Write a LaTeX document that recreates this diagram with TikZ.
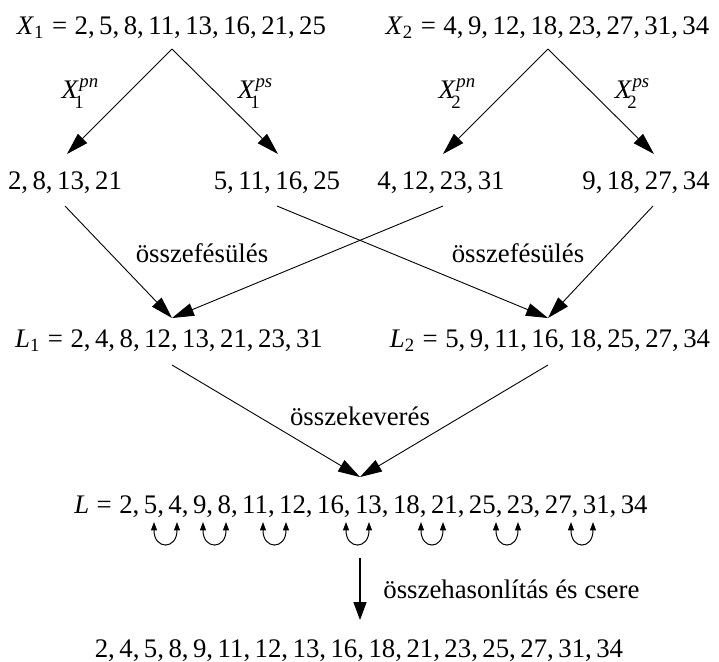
\documentclass[tikz,border=0pt]{standalone}
\usepackage{fontspec}
\setmainfont{Liberation Serif}
\usetikzlibrary{arrows.meta}

% italic variable, equal sign with math-like spacing
\newcommand\vx[1]{\textit{#1}}
\newcommand\eqsign{\hspace{0.28em}=\hspace{0.28em}}
% variable with stacked subscript and superscript
\newcommand\idxfont{\fontsize{9.4}{10}\selectfont}
\newcommand\partlbl[3]{\textit{#1}\rlap{\kern-0.17em\raisebox{-0.4em}{\idxfont #2}}\kern0.02em\raisebox{0.38em}{\idxfont\itshape #3}}

\begin{document}
\begin{tikzpicture}[x=0.5pt,y=-0.5pt,
  every node/.style={inner sep=0pt,font=\fontsize{13.4}{16}\selectfont},
  seq/.style={anchor=base},
  lbl/.style={anchor=base},
  link/.style={line width=0.45pt,-{Triangle[length=11pt,width=6.5pt]}},
  stepdown/.style={line width=0.75pt,-{Triangle[length=9pt,width=6.5pt]}},
  swap/.style={line width=0.5pt,{Triangle[length=4.2pt,width=3pt]}-{Triangle[length=4.2pt,width=3pt]}}]
\useasboundingbox (0,0) rectangle (719,661);

% input sequences
\node[seq] (x1) at (171.5,34) {\vx{X}\textsubscript{1}\eqsign 2,\,5,\,8,\,11,\,13,\,16,\,21,\,25};
\node[seq] (x2) at (547.5,34) {\vx{X}\textsubscript{2}\eqsign 4,\,9,\,12,\,18,\,23,\,27,\,31,\,34};

% split labels
\node[lbl] (l1pn) at (80,98) {\partlbl{X}{1}{pn}};
\node[lbl] (l1ps) at (255,98) {\partlbl{X}{1}{ps}};
\node[lbl] (l2pn) at (457,98) {\partlbl{X}{2}{pn}};
\node[lbl] (l2ps) at (632,98) {\partlbl{X}{2}{ps}};

% halves
\node[seq] (h1) at (65,189) {2,\,8,\,13,\,21};
\node[seq] (h2) at (277,189) {5,\,11,\,16,\,25};
\node[seq] (h3) at (441,189) {4,\,12,\,23,\,31};
\node[seq] (h4) at (646,189) {9,\,18,\,27,\,34};

% merged lists
\node[lbl] (fes1) at (202,262) {összefésülés};
\node[lbl] (fes2) at (518,262) {összefésülés};
\node[seq] (m1) at (169,347) {\vx{L}\textsubscript{1}\eqsign 2,\,4,\,8,\,12,\,13,\,21,\,23,\,31};
\node[seq] (m2) at (550,347) {\vx{L}\textsubscript{2}\eqsign 5,\,9,\,11,\,16,\,18,\,25,\,27,\,34};

% interleaved list
\node[lbl] (kev) at (360,425) {összekeverés};
\node[seq] (lall) at (361,513) {\vx{L}\eqsign 2,\,5,\,4,\,9,\,8,\,11,\,12,\,16,\,13,\,18,\,21,\,25,\,23,\,27,\,31,\,34};

% final sorted list
\node[lbl,anchor=base west] (cmp) at (383,598) {összehasonlítás és csere};
\node[seq] (res) at (359,657) {2,\,4,\,5,\,8,\,9,\,11,\,12,\,13,\,16,\,18,\,21,\,23,\,25,\,27,\,31,\,34};

% connector end points
\coordinate (a1) at (172,49);
\coordinate (a2) at (548,49);
\coordinate (t11) at (67,154);
\coordinate (t12) at (278,154);
\coordinate (t21) at (443,154);
\coordinate (t22) at (654,154);
\coordinate (s1) at (65,206);
\coordinate (s2) at (277,206);
\coordinate (s3) at (443,206);
\coordinate (s4) at (653,206);
\coordinate (e1) at (172,318);
\coordinate (e2) at (548,318);
\coordinate (f1) at (172,365);
\coordinate (f2) at (548,365);
\coordinate (g) at (360,477);
\coordinate (d0) at (360,558);
\coordinate (d1) at (360,620);

% splitting
\draw[link] (a1) -- (t11);
\draw[link] (a1) -- (t12);
\draw[link] (a2) -- (t21);
\draw[link] (a2) -- (t22);

% merging
\draw[link] (s1) -- (e1);
\draw[link] (s3) -- (e1);
\draw[link] (s2) -- (e2);
\draw[link] (s4) -- (e2);

% interleaving
\draw[link] (f1) -- (g);
\draw[link] (f2) -- (g);

% compare-exchange pairs
\foreach \i/\xa/\xb in {1/154/177,2/203/226,3/263/286,4/346/369,5/421/443,6/496/518,7/571/593}{
  \coordinate (p\i a) at (\xa,522);
  \coordinate (p\i b) at (\xb,522);
  \draw[swap] (p\i a) .. controls ([yshift=-14pt]p\i a) and ([yshift=-14pt]p\i b) .. (p\i b);
}

\draw[stepdown] (d0) -- (d1);
\end{tikzpicture}
\end{document}
